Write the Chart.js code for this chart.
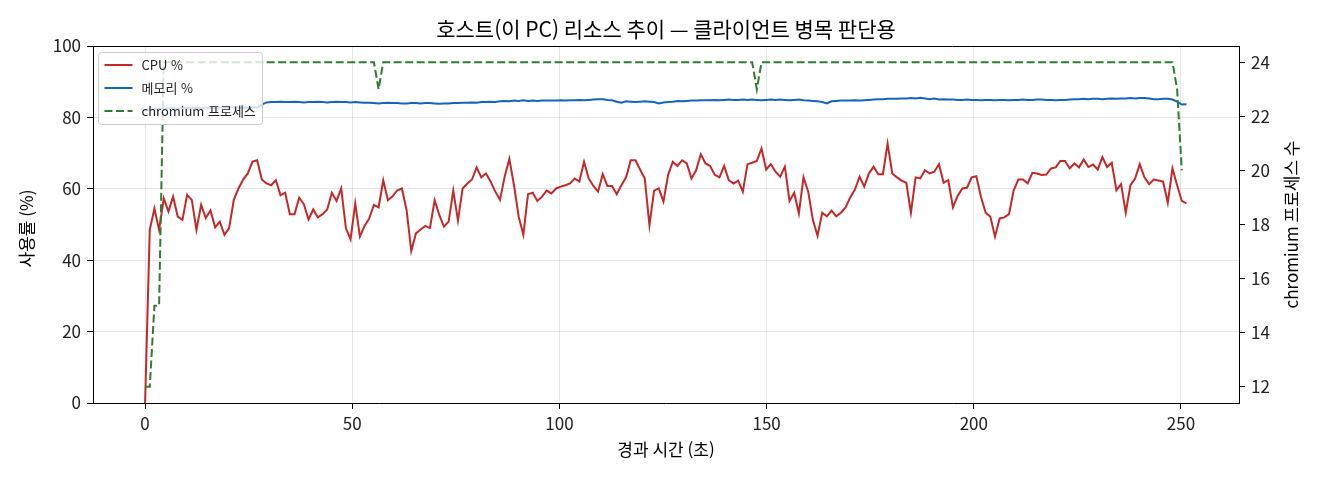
<!DOCTYPE html>
<html lang="ko">
<head>
<meta charset="utf-8">
<title>호스트 리소스 추이</title>
<script src="https://cdn.jsdelivr.net/npm/chart.js@4.4.1/dist/chart.umd.min.js"></script>
<style>
  html, body { margin: 0; padding: 0; background: #fff; }
  #wrap { width: 1320px; height: 480px; }
</style>
</head>
<body>
<div id="wrap"><canvas id="chart" width="1320" height="480"></canvas></div>
<script>
const SAMPLE_SEC = 1.127;

const CPU = [
  0, 48.5, 54.5, 48.5, 57.3, 53.6, 57.8, 52.2, 51.3, 58.3,
  56.9, 48.5, 55.5, 51.8, 53.9, 49.2, 50.8, 47.1, 49.0, 56.9,
  60.1, 62.6, 64.3, 67.6, 68.0, 62.6, 61.5, 61.0, 62.4, 58.2,
  58.9, 52.9, 52.9, 57.5, 55.7, 51.4, 54.2, 52.0, 52.9, 54.2,
  58.9, 56.6, 60.1, 49.0, 45.8, 55.9, 46.6, 49.6, 51.7, 55.5,
  54.8, 62.4, 56.8, 57.9, 59.6, 60.1, 54.0, 42.6, 47.5, 48.6,
  49.6, 49.0, 56.8, 52.7, 49.4, 50.8, 59.5, 51.1, 60.1, 61.5,
  62.6, 66.0, 63.2, 64.3, 62.0, 59.2, 56.9, 63.4, 68.4, 61.0,
  52.2, 47.1, 58.5, 58.9, 56.6, 57.8, 59.5, 58.7, 60.1, 60.6,
  61.0, 61.5, 62.9, 62.0, 67.6, 62.9, 60.8, 59.2, 64.1, 60.8,
  60.8, 58.5, 61.0, 63.2, 68.0, 68.0, 65.4, 62.9, 49.8, 59.5,
  60.1, 56.4, 63.9, 67.6, 66.4, 68.0, 67.1, 62.9, 65.2, 69.7,
  67.1, 66.4, 63.9, 63.2, 66.4, 62.4, 61.5, 62.3, 59.2, 66.9,
  67.3, 67.8, 71.3, 65.4, 66.9, 64.8, 63.4, 66.2, 56.6, 58.9,
  53.1, 63.2, 59.2, 51.3, 46.8, 53.3, 52.3, 53.9, 52.3, 53.3,
  54.8, 57.6, 59.8, 63.4, 60.6, 64.3, 66.2, 64.1, 64.1, 72.7,
  64.3, 63.2, 62.3, 61.7, 53.3, 63.2, 62.9, 65.2, 64.3, 64.8,
  66.9, 61.7, 62.4, 54.8, 58.0, 60.1, 60.3, 63.2, 63.5, 57.7,
  53.3, 52.2, 46.6, 51.7, 52.0, 52.9, 59.6, 62.6, 62.6, 61.5,
  64.5, 64.3, 63.9, 64.0, 65.7, 66.0, 67.8, 67.8, 65.7, 67.1,
  66.0, 68.2, 66.1, 66.8, 65.4, 68.9, 66.1, 67.3, 59.6, 61.3,
  53.3, 61.0, 62.9, 66.9, 63.2, 61.3, 62.6, 62.3, 62.0, 56.1,
  65.7, 61.0, 56.6, 55.9
];

const MEMORY = [
  82.0, 82.2, 82.3, 82.4,
  82.5, 82.5, 82.6, 82.5, 82.6, 82.6, 82.7, 82.6, 82.6, 82.7,
  82.7, 82.8, 82.7, 82.7, 82.8, 82.8, 82.7, 82.8, 82.8, 82.9, 82.8,
  83.6, 84.2, 84.3,
  84.3, 84.4, 84.3, 84.3, 84.4, 84.3, 84.2, 84.3, 84.3, 84.4, 84.3, 84.2,
  84.3, 84.4, 84.3, 84.3, 84.2, 84.3, 84.2, 84.1, 84.1, 84.0, 83.9,
  84.0, 84.1, 84.0, 84.0, 83.9, 83.9, 84.0, 84.0, 83.9, 84.0, 84.0, 83.9, 83.8, 83.9, 83.9,
  84.0, 84.0, 84.1, 84.1, 84.2, 84.1, 84.3, 84.3, 84.4, 84.3, 84.5, 84.6, 84.5, 84.7, 84.6, 84.8, 84.6,
  84.7, 84.6, 84.7, 84.7, 84.7, 84.7, 84.8, 84.7, 84.8, 84.8, 84.9, 84.8, 84.9, 85.0, 85.1, 85.1, 84.9, 84.8,
  84.4, 84.1, 84.5, 84.4, 84.3, 84.4, 84.5, 84.4, 84.3, 83.9, 84.2,
  84.3, 84.4, 84.6, 84.5, 84.6, 84.7, 84.7, 84.8, 84.8, 84.8, 84.9, 84.8, 84.9, 85.0, 84.9, 84.9, 85.0, 84.9, 85.0,
  84.9, 84.8, 84.9, 85.0, 84.9, 85.0, 84.9, 84.8, 84.9, 85.0, 84.8, 84.7, 84.6, 84.5, 84.3,
  83.9,
  84.5, 84.6, 84.7, 84.7, 84.7, 84.8, 84.7, 84.8, 84.9, 85.0, 85.1, 85.1, 85.2, 85.2,
  85.2, 85.3, 85.3, 85.4, 85.3, 85.5, 85.3, 85.1, 85.3, 85.0,
  85.1, 85.0, 85.0, 84.9, 84.9, 85.0, 84.9, 84.9, 84.8, 84.9, 84.9, 84.8, 84.9,
  84.9, 84.8, 84.9, 84.9, 85.0, 84.9, 84.9, 85.0, 85.0, 84.9, 84.9, 84.8,
  84.9, 84.9, 85.0, 85.1, 85.1, 85.2, 85.1, 85.2, 85.2, 85.1, 85.2, 85.3, 85.2, 85.3, 85.3, 85.4, 85.3, 85.4, 85.4,
  85.3, 85.1, 85.1, 85.2, 85.2, 85.0, 84.4, 83.6, 83.7
];

const CHROMIUM = [
  12, 12, 15, 15, 24, 24, 24, 24, 24, 24, 24, 24, 24, 24, 24, 24, 24, 24, 24, 24,
  24, 24, 24, 24, 24, 24, 24, 24, 24, 24, 24, 24, 24, 24, 24, 24, 24, 24, 24, 24,
  24, 24, 24, 24, 24, 24, 24, 24, 24, 24, 23, 24, 24, 24, 24, 24, 24, 24, 24, 24,
  24, 24, 24, 24, 24, 24, 24, 24, 24, 24, 24, 24, 24, 24, 24, 24, 24, 24, 24, 24,
  24, 24, 24, 24, 24, 24, 24, 24, 24, 24, 24, 24, 24, 24, 24, 24, 24, 24, 24, 24,
  24, 24, 24, 24, 24, 24, 24, 24, 24, 24, 24, 24, 24, 24, 24, 24, 24, 24, 24, 24,
  24, 24, 24, 24, 24, 24, 24, 24, 24, 24, 24, 23, 24, 24, 24, 24, 24, 24, 24, 24,
  24, 24, 24, 24, 24, 24, 24, 24, 24, 24, 24, 24, 24, 24, 24, 24, 24, 24, 24, 24,
  24, 24, 24, 24, 24, 24, 24, 24, 24, 24, 24, 24, 24, 24, 24, 24, 24, 24, 24, 24,
  24, 24, 24, 24, 24, 24, 24, 24, 24, 24, 24, 24, 24, 24, 24, 24, 24, 24, 24, 24,
  24, 24, 24, 24, 24, 24, 24, 24, 24, 24, 24, 24, 24, 24, 24, 24, 24, 24, 24, 24,
  24, 23, 20, null
];

const X_TICKS = [0, 50, 100, 150, 200, 250];
const Y_TICKS = [0, 20, 40, 60, 80, 100];
const Y2_TICKS = [12, 14, 16, 18, 20, 22, 24];

const TITLE = '호스트(이 PC) 리소스 추이 — 클라이언트 병목 판단용';
const X_LABEL = '경과 시간 (초)';
const Y_LABEL = '사용률 (%)';
const Y2_LABEL = 'chromium 프로세스 수';

const FONT = "'Noto Sans CJK KR', 'Noto Sans', sans-serif";
const RED = '#c62828', BLUE = '#1565c0', GREEN = '#2e7d32';

const times = CPU.map((_, i) => i * SAMPLE_SEC);
const pts = arr => arr.map((v, i) => ({ x: times[i], y: v }));

const datasets = [
  { label: 'CPU %', data: pts(CPU), borderColor: RED, borderWidth: 2, yAxisID: 'y', order: 1 },
  { label: '메모리 %', data: pts(MEMORY), borderColor: BLUE, borderWidth: 2, yAxisID: 'y', order: 2 },
  { label: 'chromium 프로세스', data: pts(CHROMIUM), borderColor: GREEN, borderWidth: 2,
    borderDash: [8, 3.5], yAxisID: 'y2', order: 0 }
];

// titles, top spine and the in-plot legend, drawn matplotlib style
const framePlugin = {
  id: 'frame',
  afterDraw(chart) {
    const { ctx, chartArea: a } = chart;
    const midX = (a.left + a.right) / 2, midY = (a.top + a.bottom) / 2;
    ctx.save();
    ctx.strokeStyle = '#000';
    ctx.lineWidth = 1;
    ctx.beginPath();
    ctx.moveTo(a.left, a.top + 0.5);
    ctx.lineTo(a.right, a.top + 0.5);
    ctx.stroke();

    ctx.fillStyle = '#000';
    ctx.textAlign = 'center';
    ctx.textBaseline = 'middle';
    ctx.font = `21px ${FONT}`;
    ctx.fillText(TITLE, midX, 29);
    ctx.font = `17px ${FONT}`;
    ctx.fillText(X_LABEL, midX, 450);

    ctx.save();
    ctx.translate(27, midY + 4);
    ctx.rotate(-Math.PI / 2);
    ctx.fillText(Y_LABEL, 0, 0);
    ctx.restore();
    ctx.save();
    ctx.translate(1292, midY);
    ctx.rotate(-Math.PI / 2);
    ctx.fillText(Y2_LABEL, 0, 0);
    ctx.restore();

    // legend box
    const bx = a.left + 5.5, by = a.top + 6.5, bw = 164, bh = 72;
    ctx.beginPath();
    ctx.roundRect(bx, by, bw, bh, 3);
    ctx.fillStyle = 'rgba(255,255,255,0.8)';
    ctx.fill();
    ctx.strokeStyle = '#cccccc';
    ctx.stroke();
    const items = [datasets[0], datasets[1], datasets[2]];
    ctx.font = `13px ${FONT}`;
    ctx.textAlign = 'left';
    items.forEach((d, i) => {
      const y = by + 12.5 + i * 23;
      ctx.strokeStyle = d.borderColor;
      ctx.lineWidth = 2;
      ctx.setLineDash(d.borderDash || []);
      ctx.beginPath();
      ctx.moveTo(bx + 6, y);
      ctx.lineTo(bx + 34, y);
      ctx.stroke();
      ctx.setLineDash([]);
      ctx.fillStyle = '#222';
      ctx.fillText(d.label, bx + 43, y);
    });
    ctx.restore();
  }
};

const tickFont = { family: FONT, size: 17 };

new Chart(document.getElementById('chart'), {
  type: 'line',
  data: { datasets },
  options: {
    responsive: false,
    animation: false,
    layout: { padding: { top: 46, left: 0, right: 0, bottom: 0 } },
    elements: { point: { radius: 0 }, line: { tension: 0, fill: false } },
    plugins: { legend: { display: false }, tooltip: { enabled: false }, title: { display: false } },
    scales: {
      x: {
        type: 'linear',
        min: -12.57,
        max: 264.0,
        afterBuildTicks: s => { s.ticks = X_TICKS.map(v => ({ value: v })); },
        afterFit: s => { s.height = 77; },
        ticks: { font: tickFont, color: '#222', padding: 4, maxRotation: 0 },
        grid: { color: 'rgba(0,0,0,0.1)', tickColor: '#000', tickLength: 6 },
        border: { color: '#000', width: 1 }
      },
      y: {
        position: 'left',
        min: 0,
        max: 100,
        afterBuildTicks: s => { s.ticks = Y_TICKS.map(v => ({ value: v })); },
        afterFit: s => { s.width = 93; },
        ticks: { font: tickFont, color: '#222', padding: 6 },
        grid: { color: 'rgba(0,0,0,0.1)', tickColor: '#000', tickLength: 6 },
        border: { color: '#000', width: 1 }
      },
      y2: {
        position: 'right',
        min: 11.4,
        max: 24.6,
        afterBuildTicks: s => { s.ticks = Y2_TICKS.map(v => ({ value: v })); },
        afterFit: s => { s.width = 81; },
        ticks: { font: tickFont, color: '#222', padding: 6 },
        grid: { drawOnChartArea: false, tickColor: '#000', tickLength: 6 },
        border: { color: '#000', width: 1 }
      }
    }
  },
  plugins: [framePlugin]
});
</script>
</body>
</html>
